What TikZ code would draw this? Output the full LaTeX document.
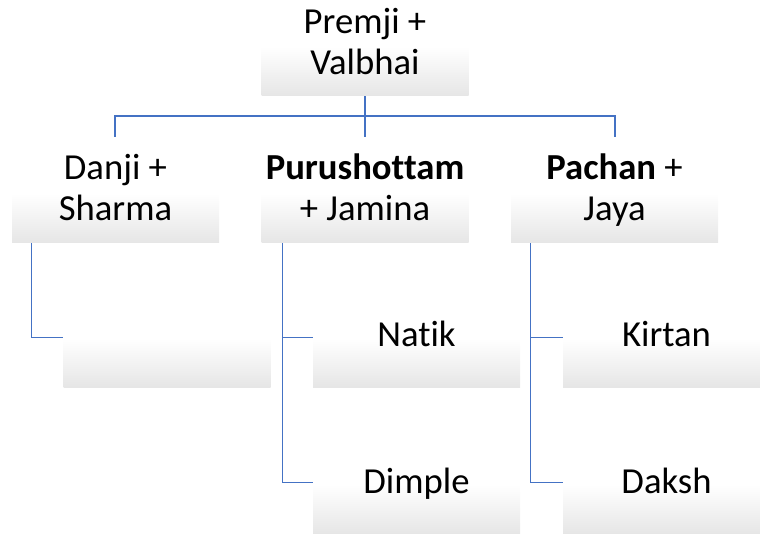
\documentclass[tikz,border=0pt]{standalone}
\usepackage{fontspec}
\setmainfont[Ligatures=NoCommon]{Carlito}
\usetikzlibrary{calc}
\definecolor{linkblue}{HTML}{4472C4}
\begin{document}
\begin{tikzpicture}[x=0.75pt,y=-0.75pt,
  card/.style={minimum width=155.25pt, minimum height=36.75pt, inner sep=0pt,
               top color=white, bottom color=black!10},
  lbl/.style={font=\fontsize{27.5}{31.1}\selectfont, align=center,
              anchor=base, inner sep=0pt},
  link/.style={draw=linkblue, line width=0.8pt}]
\useasboundingbox (0,0) rectangle (760,534);
\clip (0,0) rectangle (760,534);

% shaded boxes
\node[card] (root)   at (365,71.5)   {};
\node[card] (danji)  at (115.5,218.5) {};
\node[card] (puru)   at (365,218.5)  {};
\node[card] (pachan) at (614.5,218.5) {};
\node[card] (blank)  at (167,363)    {};
\node[card] (natik)  at (416.5,363)  {};
\node[card] (kirtan) at (666.5,363)  {};
\node[card] (dimple) at (416.5,509.5) {};
\node[card] (daksh)  at (666.5,509.5) {};

% names
\node[lbl] (rootT)   at (365,75)    {Premji +\\Valbhai};
\node[lbl] (danjiT)  at (115.5,221) {Danji +\\Sharma};
\node[lbl] (puruT)   at (365,221)   {\textbf{Purushottam}\\+ Jamina};
\node[lbl] (pachanT) at (614.5,221) {\textbf{Pachan} +\\Jaya};
\node[lbl] (natikT)  at (416.5,347) {Natik};
\node[lbl] (kirtanT) at (666.5,347) {Kirtan};
\node[lbl] (dimpleT) at (416.5,493) {Dimple};
\node[lbl] (dakshT)  at (666.5,493) {Daksh};

% top-level bus
\coordinate (busL)  at (115,116);
\coordinate (busR)  at (615,116);
\coordinate (dropL) at (115,137);
\coordinate (dropM) at (365,137);
\coordinate (dropR) at (615,137);
\draw[link] (root.south) -- (dropM);
\draw[link] (dropL) -- (busL) -- (busR) -- (dropR);

% child connectors
\draw[link] ($(danji.south west)+(20,0)$)  |- ($(blank.north west)+(0,-1)$);
\draw[link] ($(puru.south west)+(21,0)$)   |- ($(natik.north west)+(0,-1)$);
\draw[link] ($(puru.south west)+(21,0)$)   |- ($(dimple.north west)+(0,-2)$);
\draw[link] ($(pachan.south west)+(20,0)$) |- ($(kirtan.north west)+(0,-1)$);
\draw[link] ($(pachan.south west)+(20,0)$) |- ($(daksh.north west)+(0,-2)$);
\end{tikzpicture}
\end{document}
